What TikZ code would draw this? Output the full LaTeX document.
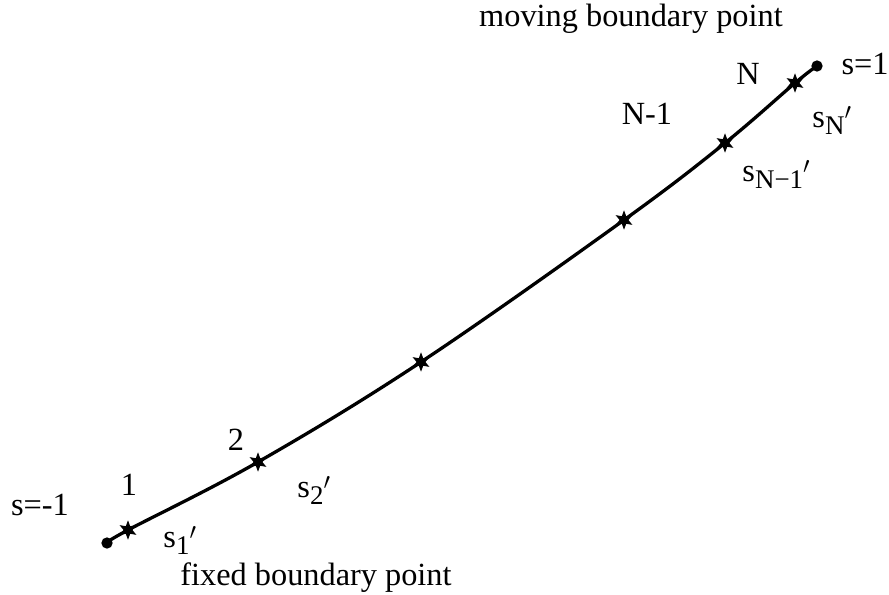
\documentclass[tikz,border=0pt]{standalone}
\usepackage{fontspec}
\setmainfont{Liberation Serif}
\usetikzlibrary{shapes.geometric}
\newcommand{\lowsub}[1]{\raisebox{-0.22em}{\fontsize{11.5}{12}\selectfont #1}}
\begin{document}
\begin{tikzpicture}[x=1.5cm,y=1.5cm,every node/.style={font=\fontsize{13.8}{16}\selectfont},
  knot/.style={star,star points=6,star point ratio=2.2,fill=black,draw=black,line width=0.4pt,inner sep=0pt,minimum size=0.25cm},
  endpt/.style={circle,fill=black,inner sep=0pt,minimum size=0.17cm},
  slabel/.style={anchor=base west,inner sep=0pt}]
  \useasboundingbox (0,0) rectangle (8.89,5.94);
  % end points of the element
  \node[endpt] (e0) at (1.07,0.51) {};
  \node[endpt] (e1) at (8.17,5.28) {};
  % collocation points
  \foreach \i/\x/\y in {1/1.28/0.64,2/2.58/1.32,3/4.21/2.32,4/6.24/3.74,5/7.25/4.51,6/7.95/5.11}
    \node[knot] (p\i) at (\x,\y) {};
  \draw[line width=1.4pt] plot[smooth,tension=0.6] coordinates {(e0.center) (p1.center) (p2.center) (p3.center) (p4.center) (p5.center) (p6.center) (e1.center)};
  % labels
  \node (moving) at (6.31,5.75) {moving boundary point};
  \node (fixed) at (3.16,0.16) {fixed boundary point};
  \node (sr) at (8.65,5.30) {s=1};
  \node (sl) at (0.40,0.89) {s=-1};
  \node (nN) at (7.48,5.20) {N};
  \node (nNm) at (6.47,4.80) {N-1};
  \node (n1) at (1.29,1.09) {1};
  \node (n2) at (2.36,1.54) {2};
  \node[slabel] (s1) at (1.63,0.47) {s\lowsub{1}\raisebox{-0.15em}{$'$}};
  \node[slabel] (s2) at (2.97,0.97) {s\lowsub{2}\raisebox{-0.15em}{$'$}};
  \node[slabel] (sN) at (8.12,4.67) {s\lowsub{N}\raisebox{-0.15em}{$'$}};
  \node[slabel] (sNm) at (7.42,4.13) {s\lowsub{N−1}\raisebox{-0.15em}{$'$}};
\end{tikzpicture}
\end{document}
